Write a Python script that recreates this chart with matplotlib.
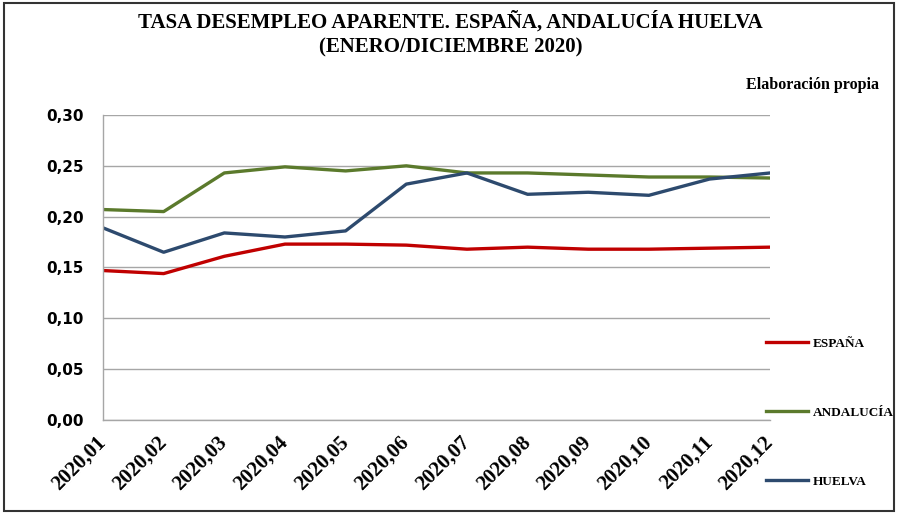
import matplotlib
matplotlib.use('Agg')
import matplotlib.pyplot as plt
from matplotlib.patches import Rectangle

# datos
meses = ['2020,01', '2020,02', '2020,03', '2020,04', '2020,05', '2020,06',
         '2020,07', '2020,08', '2020,09', '2020,10', '2020,11', '2020,12']
espana = [0.147, 0.144, 0.161, 0.173, 0.173, 0.172, 0.168, 0.170, 0.168, 0.168, 0.169, 0.170]
andalucia = [0.207, 0.205, 0.243, 0.249, 0.245, 0.250, 0.243, 0.243, 0.241, 0.239, 0.239, 0.238]
huelva = [0.189, 0.165, 0.184, 0.180, 0.186, 0.232, 0.243, 0.222, 0.224, 0.221, 0.237, 0.243]
yticks = [0.00, 0.05, 0.10, 0.15, 0.20, 0.25, 0.30]

serif = 'Liberation Serif'

fig = plt.figure(figsize=(8.98, 5.15), dpi=100)
ax = fig.add_axes([0.1147, 0.1845, 0.743, 0.5922])

x = list(range(len(meses)))
ax.plot(x, espana, color='#C00000', lw=2.4, label='ESPAÑA')
ax.plot(x, andalucia, color='#5B7A2C', lw=2.4, label='ANDALUCÍA')
ax.plot(x, huelva, color='#2D4A6E', lw=2.4, label='HUELVA')

ax.set_xlim(0, len(meses) - 1)
ax.set_ylim(0, 0.30)
ax.set_yticks(yticks)
ax.set_yticklabels([('%.2f' % v).replace('.', ',') for v in yticks], fontsize=11,
                   fontweight='bold', family='DejaVu Sans')
ax.set_xticks(x)
ax.set_xticklabels(meses, rotation=45, ha='right', va='center', rotation_mode='anchor',
                   fontsize=15, fontweight='bold', family=serif)
ax.tick_params(axis='y', length=0, pad=14)
ax.tick_params(axis='x', length=0, pad=14)
ax.grid(axis='y', color='#A6A6A6', lw=1)
ax.set_axisbelow(True)
for s in ['top', 'right']:
    ax.spines[s].set_visible(False)
for s in ['left', 'bottom']:
    ax.spines[s].set_color('#A6A6A6')
    ax.spines[s].set_linewidth(1)

leg = fig.legend(loc='upper left', bbox_to_anchor=(0.840, 0.367), frameon=False,
                 prop={'family': serif, 'weight': 'bold', 'size': 9.5},
                 handlelength=3.2, handletextpad=0.3, labelspacing=4.3)

fig.text(0.502, 0.957, 'TASA DESEMPLEO APARENTE. ESPAÑA, ANDALUCÍA HUELVA',
         ha='center', va='center', fontsize=15, fontweight='bold', family=serif)
fig.text(0.502, 0.907, '(ENERO/DICIEMBRE 2020)',
         ha='center', va='center', fontsize=15, fontweight='bold', family=serif)
fig.text(0.979, 0.834, 'Elaboración propia', ha='right', va='center',
         fontsize=11.5, fontweight='bold', family=serif)

# marco del gráfico
fig.patches.append(Rectangle((0.004, 0.008), 0.992, 0.986, transform=fig.transFigure,
                             fill=False, edgecolor='#333333', lw=1.5))

fig.savefig('out.png', dpi=100)
